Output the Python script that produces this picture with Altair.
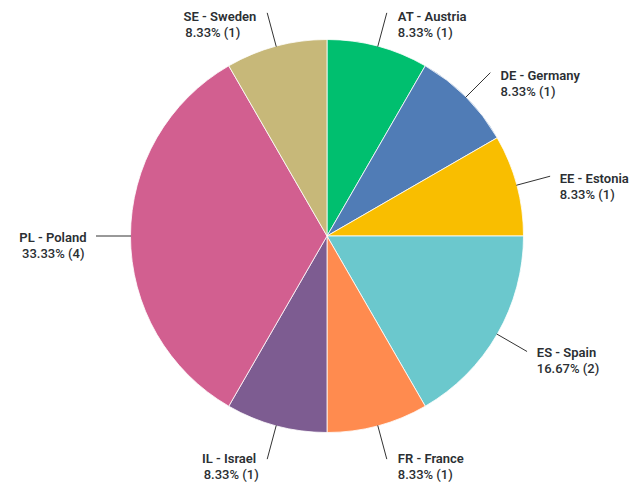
import math
import altair as alt
import pandas as pd

codes = ["AT", "DE", "EE", "ES", "FR", "IL", "PL", "SE"]
names = ["Austria", "Germany", "Estonia", "Spain", "France", "Israel", "Poland", "Sweden"]
counts = [1, 1, 1, 2, 1, 1, 4, 1]
colors = ["#00BF6F", "#507CB6", "#F9BE00", "#6BC8CD", "#FF8B4F", "#7D5C91", "#D25F90", "#C7B879"]

FONT = "Roboto"
FS = 13
CX, CY, R = 319, 228, 196.5
R_LINE_IN, R_LINE_OUT, R_LABEL, GAP = 196, 231, 229, 11.5
LINE_H = 16

CHAR_W = {
    " ": .25, "-": .30, ".": .26, "(": .34, ")": .34, "%": .74,
    "S": .60, "E": .53, "P": .59, "L": .51, "I": .27, "W": .87, "A": .66, "T": .60,
    "a": .54, "e": .53, "n": .55, "o": .57, "s": .52, "t": .33, "d": .56, "w": .76,
    "r": .35, "i": .25, "l": .25, "g": .56, "m": .88, "y": .49, "c": .52, "p": .56,
    "u": .55, "h": .55, "f": .34,
}


def est_width(s):
    return sum(CHAR_W.get(ch, 0.56 if ch.isdigit() else 0.6) for ch in s) * FS


total = sum(counts)
rows = []
cum = 0
for i, (c, n, k) in enumerate(zip(codes, names, counts)):
    mid = (cum + k / 2) / total * 2 * math.pi
    cum += k
    sx, sy = math.sin(mid), -math.cos(mid)
    line1 = f"{c} - {n}"
    line2 = f"{k / total * 100:.2f}% ({k})"
    lx = CX + R_LABEL * sx
    ly = CY + R_LABEL * sy + 2
    if sx > 0.01:
        x1 = lx + GAP
        x2 = lx + GAP
        a1 = "left"
    else:
        x1 = lx - GAP
        x2 = lx - GAP - est_width(line1)
        a1 = "right"
    rows.append(dict(
        idx=i, code=c, count=k, line1=line1, line2=line2,
        rx1=CX + R_LINE_IN * sx, ry1=CY + R_LINE_IN * sy,
        rx2=CX + R_LINE_OUT * sx, ry2=CY + R_LINE_OUT * sy,
        tx1=x1, tx2=x2, ty1=ly, ty2=ly + LINE_H, a1=a1,
    ))

df = pd.DataFrame(rows)
base = alt.Chart(df)

arc = base.mark_arc(outerRadius=R, stroke="#ffffff", strokeWidth=0.8).encode(
    theta=alt.Theta("count:Q", stack=True),
    order=alt.Order("idx:Q"),
    color=alt.Color("code:N", scale=alt.Scale(domain=codes, range=colors), legend=None),
    x=alt.value(CX),
    y=alt.value(CY),
)

rules = base.mark_rule(color="#333333", strokeWidth=1).encode(
    x=alt.X("rx1:Q", scale=None, axis=None),
    y=alt.Y("ry1:Q", scale=None, axis=None),
    x2="rx2:Q",
    y2="ry2:Q",
)

txt_kw = dict(font=FONT, fontSize=FS, color="#2b2f33", baseline="middle")
t1_left = base.transform_filter("datum.a1 == 'left'").mark_text(align="left", fontWeight=600, **txt_kw).encode(
    x=alt.X("tx1:Q", scale=None, axis=None), y=alt.Y("ty1:Q", scale=None, axis=None), text="line1:N")
t1_right = base.transform_filter("datum.a1 == 'right'").mark_text(align="right", fontWeight=600, **txt_kw).encode(
    x=alt.X("tx1:Q", scale=None, axis=None), y=alt.Y("ty1:Q", scale=None, axis=None), text="line1:N")
t2 = base.mark_text(align="left", fontWeight=500, **txt_kw).encode(
    x=alt.X("tx2:Q", scale=None, axis=None), y=alt.Y("ty2:Q", scale=None, axis=None), text="line2:N")

chart = alt.layer(arc, rules, t1_left, t1_right, t2).properties(
    width=622, height=475, autosize="none", padding=0
).configure_view(stroke=None)

chart.save("out.html", embed_options={"renderer": "svg", "actions": False})
